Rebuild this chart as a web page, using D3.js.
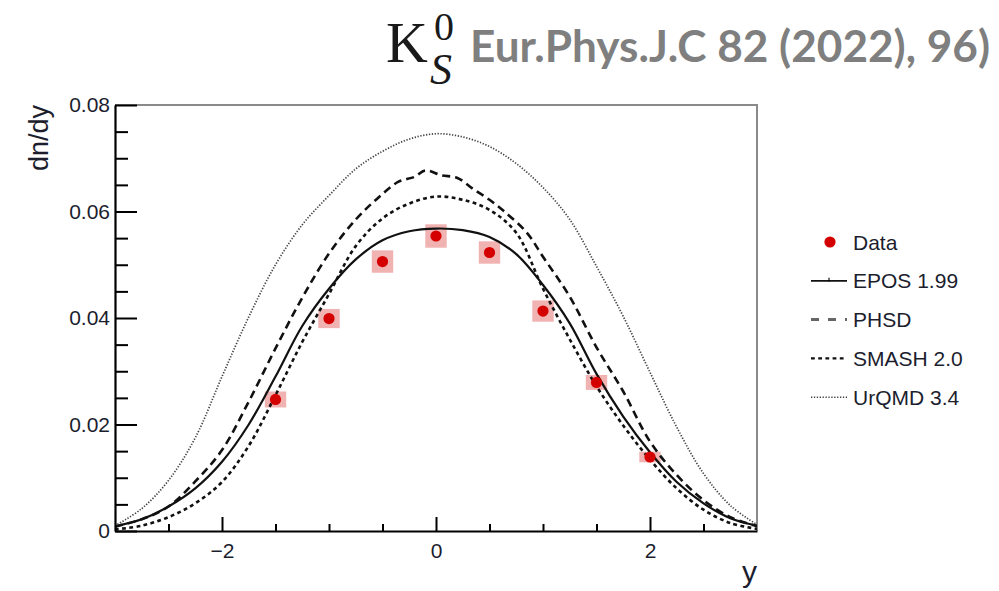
<!DOCTYPE html>
<html>
<head>
<meta charset="utf-8">
<script src="https://cdn.jsdelivr.net/npm/d3@7"></script>
<style>
  body { margin: 0; background: #fff; }
  svg { display: block; }
</style>
</head>
<body>
<svg id="chart" width="999" height="591"></svg>
<script>
// ---- measured K0S rapidity density (points + systematic boxes) ----
const dataRap = [-1.5, -1, -0.5, 0, 0.5, 1, 1.5, 2];
const dataVal = [0.0247, 0.0399, 0.0506, 0.0554, 0.0523, 0.0413, 0.0279, 0.0139];
const dataSys = [0.0015, 0.0018, 0.0021, 0.0022, 0.0021, 0.0020, 0.0014, 0.0010];

// ---- model curves ----
const modelRap = [-3, -2.75, -2.5, -2.25, -2, -1.75, -1.5, -1.25, -1, -0.75, -0.5, -0.25,
                  0, 0.25, 0.5, 0.75, 1, 1.25, 1.5, 1.75, 2, 2.25, 2.5, 2.75, 3];
const eposVal  = [0.0009, 0.0022, 0.0046, 0.0080, 0.0130, 0.0200, 0.0290, 0.0385, 0.0455, 0.0510, 0.0546, 0.0563,
                  0.0568, 0.0565, 0.0552, 0.0520, 0.0462, 0.0390, 0.0295, 0.0215, 0.0148, 0.0092, 0.0052, 0.0024, 0.0010];
const smashVal = [0.0003, 0.0010, 0.0026, 0.0052, 0.0092, 0.0160, 0.0255, 0.0355, 0.0445, 0.0535, 0.0587, 0.0615,
                  0.0628, 0.0622, 0.0603, 0.0560, 0.0455, 0.0360, 0.0272, 0.0198, 0.0134, 0.0080, 0.0040, 0.0015, 0.0004];
const urqmdVal = [0.0010, 0.0042, 0.0095, 0.0175, 0.0290, 0.0402, 0.0500, 0.0575, 0.0630, 0.0680, 0.0713, 0.0736,
                  0.0746, 0.0740, 0.0722, 0.0690, 0.0645, 0.0585, 0.0497, 0.0403, 0.0298, 0.0195, 0.0108, 0.0048, 0.0012];
// PHSD carries statistical wiggles near the maximum
const phsdRap = [-3, -2.75, -2.5, -2.25, -2, -1.75, -1.5, -1.25, -1, -0.75, -0.55, -0.35, -0.2, -0.1,
                 0.05, 0.2, 0.35, 0.5, 0.65, 0.85, 1, 1.25, 1.5, 1.75, 2, 2.25, 2.5, 2.75, 3];
const phsdVal = [0.0008, 0.0022, 0.0046, 0.0093, 0.0152, 0.0243, 0.0343, 0.0438, 0.0521, 0.0585, 0.0624, 0.0656, 0.0665, 0.0677,
                 0.0668, 0.0663, 0.0642, 0.0622, 0.0598, 0.0560, 0.0515, 0.0440, 0.0345, 0.0262, 0.0168, 0.0105, 0.0058, 0.0026, 0.0009];

const xMajor = [-2, 0, 2];
const xMinor = [-2.5, -1.5, -1, -0.5, 0.5, 1, 1.5, 2.5];
const yMajor = [0, 0.02, 0.04, 0.06, 0.08];
const yMinor = [0.005, 0.01, 0.015, 0.025, 0.03, 0.035, 0.045, 0.05, 0.055, 0.065, 0.07, 0.075];

const legendLabels = ["Data", "EPOS 1.99", "PHSD", "SMASH 2.0", "UrQMD 3.4"];

// ---- drawing ----
const svg = d3.select("#chart");
const L = 115, R = 757, T = 105, B = 531;
const x = d3.scaleLinear().domain([-3, 3]).range([L, R]);
const y = d3.scaleLinear().domain([0, 0.08]).range([B, T]);
const textCol = "#1c1e2e";
const tickFont = "Liberation Sans, Arial, sans-serif";
const serif = "Liberation Serif, Times New Roman, serif";

// title: K^0_S followed by the reference
const title = svg.append("g");
title.append("text").attr("x", 386).attr("y", 62)
  .attr("font-family", serif).attr("font-size", 58).attr("fill", "#1a1a1a").text("K");
title.append("text").attr("x", 434).attr("y", 40)
  .attr("font-family", serif).attr("font-size", 40).attr("fill", "#1a1a1a").text("0");
title.append("text").attr("x", 430).attr("y", 84)
  .attr("font-family", serif).attr("font-size", 44)
  .attr("font-style", "italic").attr("fill", "#1a1a1a").text("S");
title.append("text").attr("x", 470).attr("y", 62)
  .attr("font-family", "Lato, Open Sans, sans-serif").attr("font-weight", "bold")
  .attr("font-size", 43).attr("fill", "#7f7f7f")
  .attr("textLength", 520).attr("lengthAdjust", "spacingAndGlyphs")
  .text("Eur.Phys.J.C 82 (2022), 96)");

// frame (top and right in gray)
svg.append("path")
  .attr("d", `M${L},${T}H${R}V${B}`)
  .attr("fill", "none").attr("stroke", "#8a8a8a").attr("stroke-width", 2);

// clipped plotting layer
svg.append("clipPath").attr("id", "plotclip")
  .append("rect").attr("x", L).attr("y", T).attr("width", R - L).attr("height", B - T);
const plot = svg.append("g").attr("clip-path", "url(#plotclip)");

// systematic boxes
plot.selectAll("rect.sys").data(dataRap).join("rect")
  .attr("class", "sys")
  .attr("x", d => x(d - 0.1))
  .attr("width", d => x(d + 0.1) - x(d - 0.1))
  .attr("y", (d, i) => y(dataVal[i] + dataSys[i]))
  .attr("height", (d, i) => y(dataVal[i] - dataSys[i]) - y(dataVal[i] + dataSys[i]))
  .attr("fill", "#eea5a5").attr("opacity", 0.85);

// model curves
const curves = [
  { xs: modelRap, vs: eposVal, dash: null, w: 2.2, col: "#111" },
  { xs: phsdRap, vs: phsdVal, dash: "8,5", w: 2.6, col: "#111" },
  { xs: modelRap, vs: smashVal, dash: "3.8,3.4", w: 2.6, col: "#111" },
  { xs: modelRap, vs: urqmdVal, dash: "1.3,1.6", w: 1.7, col: "#444" }
];
const line = d3.line().curve(d3.curveCatmullRom.alpha(0.5)).x(p => x(p[0])).y(p => y(p[1]));
curves.forEach(c => {
  plot.append("path")
    .attr("d", line(c.xs.map((v, i) => [v, c.vs[i]])))
    .attr("fill", "none").attr("stroke", c.col).attr("stroke-width", c.w)
    .attr("stroke-dasharray", c.dash);
});

// data points
plot.selectAll("circle.pt").data(dataRap).join("circle")
  .attr("class", "pt")
  .attr("cx", d => x(d)).attr("cy", (d, i) => y(dataVal[i]))
  .attr("r", 5.6).attr("fill", "#d40000");

// axes
function styleAxis(g) {
  g.selectAll("path.domain").attr("stroke", "#000").attr("stroke-width", 2.2);
  g.selectAll(".tick line").attr("stroke", "#000").attr("stroke-width", 2);
  g.selectAll(".tick text").attr("fill", textCol).attr("font-family", tickFont).attr("font-size", 21);
}
const yAxis = svg.append("g").attr("transform", `translate(${L},0)`)
  .call(d3.axisLeft(y).tickValues(yMajor).tickSizeInner(-22).tickSizeOuter(0).tickPadding(5)
    .tickFormat(v => v === 0 ? "0" : d3.format(".2f")(v)));
styleAxis(yAxis);
const yMin = svg.append("g").attr("transform", `translate(${L},0)`)
  .call(d3.axisLeft(y).tickValues(yMinor).tickSizeInner(-13).tickSizeOuter(0).tickFormat(""));
yMin.select("path.domain").remove();
yMin.selectAll(".tick line").attr("stroke", "#000").attr("stroke-width", 2);

const xAxis = svg.append("g").attr("transform", `translate(0,${B})`)
  .call(d3.axisBottom(x).tickValues(xMajor).tickSizeInner(-14).tickSizeOuter(0).tickPadding(12)
    .tickFormat(d3.format("d")));
styleAxis(xAxis);
const xMin = svg.append("g").attr("transform", `translate(0,${B})`)
  .call(d3.axisBottom(x).tickValues(xMinor).tickSizeInner(-7).tickSizeOuter(0).tickFormat(""));
xMin.select("path.domain").remove();
xMin.selectAll(".tick line").attr("stroke", "#000").attr("stroke-width", 2);

// axis titles
svg.append("text").attr("transform", `translate(48,${T}) rotate(-90)`)
  .attr("text-anchor", "end").attr("font-family", tickFont).attr("font-size", 27)
  .attr("fill", textCol).text("dn/dy");
svg.append("text").attr("x", R).attr("y", 582).attr("text-anchor", "end")
  .attr("font-family", tickFont).attr("font-size", 30).attr("fill", textCol).text("y");

// legend
const legend = svg.append("g");
const legY0 = 242, legDy = 38.8, symL = 811, symR = 847, txtX = 853;
legendLabels.forEach((lab, i) => {
  const ly = legY0 + i * legDy;
  if (i === 0) {
    legend.append("circle").attr("cx", 830).attr("cy", ly).attr("r", 5.6).attr("fill", "#d40000");
  } else {
    const c = curves[i - 1];
    let dash = c.dash, col = c.col, w = c.w * 0.8;
    if (i === 2) { dash = "8,9"; col = "#666"; w = 3; }
    legend.append("line").attr("x1", symL).attr("x2", symR).attr("y1", ly).attr("y2", ly)
      .attr("stroke", col).attr("stroke-width", w).attr("stroke-dasharray", dash);
    if (i === 1) {
      legend.append("line").attr("x1", 829).attr("x2", 829).attr("y1", ly - 3).attr("y2", ly + 1)
        .attr("stroke", "#111").attr("stroke-width", 1.2);
    }
  }
  legend.append("text").attr("x", txtX).attr("y", ly + 7.5)
    .attr("font-family", tickFont).attr("font-size", 21).attr("fill", textCol).text(lab);
});
</script>
</body>
</html>
